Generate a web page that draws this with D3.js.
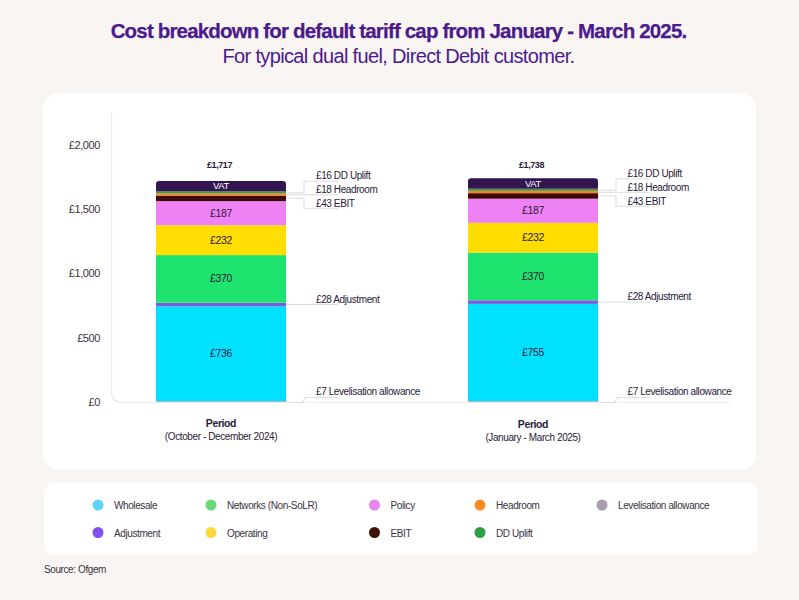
<!DOCTYPE html>
<html>
<head>
<meta charset="utf-8">
<script src="https://cdn.jsdelivr.net/npm/d3@7"></script>
<style>
  body { margin: 0; background: #f9f5f2; }
  svg { display: block; }
  text { font-family: "Liberation Sans", Inter, sans-serif; letter-spacing: -0.4px; }
</style>
</head>
<body>
<div id="chart"></div>
<script>
// Data
const periods = ["October - December 2024", "January - March 2025"];
const keys = ["Levelisation", "Wholesale", "Adjustment", "Networks", "Operating", "Policy", "EBIT", "Headroom", "DD", "VAT"];
const levelisation = [7, 7];
const wholesale = [736, 755];
const adjustment = [28, 28];
const networks = [370, 370];
const operating = [232, 232];
const policy = [187, 187];
const ebit = [43, 43];
const headroom = [18, 18];
const ddUplift = [16, 16];
const vat = [80, 82];
const totals = ["£1,717", "£1,738"];
const yTicks = [0, 500, 1000, 1500, 2000];

const barColours = ["#b5aab8", "#00e1ff", "#7a5be0", "#1ee36e", "#ffdd00", "#ee82f5", "#3e0a0a", "#f5861f", "#3d9a4d", "#33154f"];

const legendNames = ["Wholesale", "Networks (Non-SoLR)", "Policy", "Headroom", "Levelisation allowance", "Adjustment", "Operating", "EBIT", "DD Uplift"];
const legendColours = ["#5fd4fb", "#69d978", "#e883f0", "#ff8b26", "#a99db0", "#8351ee", "#fdd83f", "#3f1309", "#2f9e44"];

const rows = periods.map((p, i) => ({
  period: p,
  Levelisation: levelisation[i], Wholesale: wholesale[i], Adjustment: adjustment[i],
  Networks: networks[i], Operating: operating[i], Policy: policy[i],
  EBIT: ebit[i], Headroom: headroom[i], DD: ddUplift[i], VAT: vat[i]
}));

const svg = d3.select("#chart").append("svg").attr("width", 799).attr("height", 600);
const ink = "#2a1a3a";

// Title
svg.append("text").attr("x", 398.5).attr("y", 38).attr("text-anchor", "middle")
  .attr("fill", "#4b1a8c").attr("stroke", "#4b1a8c").attr("stroke-width", 0.25)
  .style("font-size", "20.5px").style("font-weight", 700).style("letter-spacing", "-0.83px")
  .text("Cost breakdown for default tariff cap from January - March 2025.");
svg.append("text").attr("x", 398.5).attr("y", 63).attr("text-anchor", "middle")
  .attr("fill", "#4b1a8c").style("font-size", "20px").style("letter-spacing", "-0.65px")
  .text("For typical dual fuel, Direct Debit customer.");

// Cards
svg.append("rect").attr("x", 43).attr("y", 93).attr("width", 713).attr("height", 377).attr("rx", 16).attr("fill", "#fff");
svg.append("rect").attr("x", 44).attr("y", 483).attr("width", 714).attr("height", 72).attr("rx", 10).attr("fill", "#fff");

// Scales
const x = d3.scaleBand().domain(periods).range([0, 442]).paddingInner(0.5833).paddingOuter(0);
const barX = d => 156 + x(d);
const y = d3.scaleLinear().domain([0, 2000]).range([402, 144.5]);

// Axes
svg.append("path")
  .attr("d", "M111.5,112 V392 Q111.5,402.5 122,402.5 H730")
  .attr("fill", "none").attr("stroke", "#ececec").attr("stroke-width", 1.2);

const yAxis = svg.append("g").attr("transform", "translate(100,0)")
  .call(d3.axisLeft(y).tickValues(yTicks).tickSize(0).tickPadding(0).tickFormat(d => "£" + d3.format(",")(d)));
yAxis.select(".domain").remove();
yAxis.selectAll("text").attr("fill", "#3a3340").style("font-size", "11px").style("font-family", "'Liberation Sans', sans-serif");

// Bars
const stacked = d3.stack().keys(keys)(rows);
const barW = x.bandwidth();
const groups = svg.append("g").selectAll("g").data(stacked).enter().append("g")
  .attr("fill", (d, i) => barColours[i]);

groups.filter(d => d.key !== "VAT").selectAll("rect")
  .data(d => d).enter().append("rect")
  .attr("x", d => barX(d.data.period))
  .attr("y", d => y(d[1]))
  .attr("width", barW)
  .attr("height", d => y(d[0]) - y(d[1]));

// VAT sits on top with rounded corners
groups.filter(d => d.key === "VAT").selectAll("path")
  .data(d => d).enter().append("path")
  .attr("d", d => {
    const l = barX(d.data.period), r = l + barW, t = y(d[1]), b = y(d[0]);
    return `M${l},${b}V${t + 3}Q${l},${t} ${l + 3},${t}H${r - 3}Q${r},${t} ${r},${t + 3}V${b}Z`;
  });

// Labels inside the bars
const inside = ["Wholesale", "Networks", "Operating", "Policy"];
inside.forEach(k => {
  const s = stacked.find(e => e.key === k);
  svg.append("g").selectAll("text").data(s).enter().append("text")
    .attr("x", d => barX(d.data.period) + barW / 2)
    .attr("y", d => y((d[0] + d[1]) / 2) + 3.5)
    .attr("text-anchor", "middle").attr("fill", ink).style("font-size", "10.5px")
    .text(d => "£" + d.data[k]);
});
const vatStack = stacked.find(e => e.key === "VAT");
svg.append("g").selectAll("text").data(vatStack).enter().append("text")
  .attr("x", d => barX(d.data.period) + barW / 2)
  .attr("y", d => y(d[1]) + 8.5)
  .attr("text-anchor", "middle").attr("fill", "#fff").style("font-size", "9.5px")
  .text("VAT");

// Totals
svg.append("g").selectAll("text").data(vatStack).enter().append("text")
  .attr("x", d => barX(d.data.period) + barW / 2 - 1.5)
  .attr("y", 168)
  .attr("text-anchor", "middle").attr("fill", ink).style("font-size", "9px").style("font-weight", 700)
  .text((d, i) => totals[i]);

// Leader lines and their labels
const leaderColour = "#dcdcdc";
const ddStack = stacked.find(e => e.key === "DD");
const adjStack = stacked.find(e => e.key === "Adjustment");
ddStack.forEach((d, i) => {
  const r = barX(d.data.period) + barW;
  const lx = r + 30 - i * 0.5;
  const top = y(d[1]);
  const adjY = y((adjStack[i][0] + adjStack[i][1]) / 2);
  const lines = [
    [[r, top + 1.5], [r + 18, top + 1.5], [r + 18, top - 10], [r + 52, top - 10]],
    [[r, top + 3.5], [r + 52, top + 3.5]],
    [[r, top + 7], [r + 18, top + 7], [r + 18, top + 17.5], [r + 52, top + 17.5]],
    [[r, adjY], [r + 52, adjY]],
    [[r, 402.5], [r + 17, 402.5], [r + 19, 397.5], [r + 52, 397.5]]
  ];
  lines.forEach(pts => svg.append("path")
    .attr("d", d3.line()(pts)).attr("fill", "none")
    .attr("stroke", leaderColour).attr("stroke-width", 1));

  const labels = [
    [top - 12, "£" + ddUplift[i] + " DD Uplift"],
    [top + 2, "£" + headroom[i] + " Headroom"],
    [top + 16, "£" + ebit[i] + " EBIT"],
    [adjY - 2, "£" + adjustment[i] + " Adjustment"],
    [395, "£" + levelisation[i] + " Levelisation allowance"]
  ];
  labels.forEach(l => svg.append("text").attr("x", lx).attr("y", l[0])
    .attr("fill", ink).style("font-size", "10px").text(l[1]));
});

// Period labels under the bars
periods.forEach((p, i) => {
  const cx = barX(p) + barW / 2;
  svg.append("text").attr("x", cx).attr("y", 427 + i * 0.5).attr("text-anchor", "middle")
    .attr("fill", ink).style("font-size", "10.5px").style("font-weight", 700).text("Period");
  svg.append("text").attr("x", cx).attr("y", 440 + i * 0.5).attr("text-anchor", "middle")
    .attr("fill", ink).style("font-size", "10px").text("(" + p + ")");
});

// Legend
const legendX = [98, 211, 374.5, 480, 602];
const legendY = [505, 532.5];
const legend = svg.append("g").selectAll("g").data(legendNames).enter().append("g")
  .attr("transform", (d, i) => `translate(${legendX[i % 5]},${legendY[Math.floor(i / 5)]})`);
legend.append("circle").attr("r", 5.5).attr("fill", (d, i) => legendColours[i]);
legend.append("text").attr("x", 16).attr("y", 4).attr("fill", "#3a3340")
  .style("font-size", "10px").text(d => d);

// Source
svg.append("text").attr("x", 44).attr("y", 573).attr("fill", "#3a3340")
  .style("font-size", "10px").text("Source: Ofgem");
</script>
</body>
</html>
